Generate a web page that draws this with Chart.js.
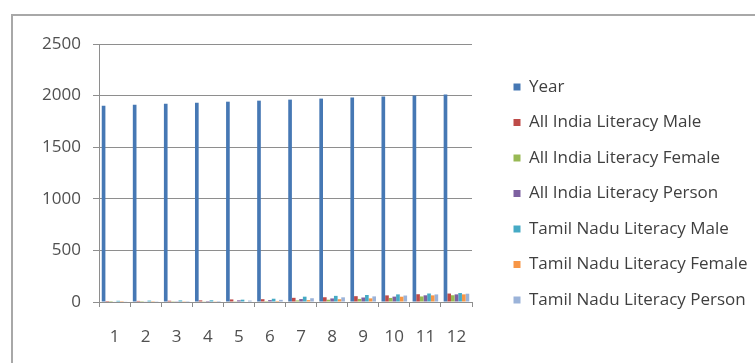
<!DOCTYPE html>
<html>
<head>
<meta charset="utf-8">
<script src="https://cdn.jsdelivr.net/npm/chart.js@4.4.1/dist/chart.umd.min.js"></script>
<style>
  html, body { margin:0; padding:0; background:#fff; overflow:hidden; }
  #frame { position:absolute; left:11px; top:14px; width:800px; height:400px;
    border-top:2px solid #a8a8a8; border-left:2px solid #a8a8a8; }
  #wrap { position:absolute; left:0; top:0; width:755px; height:363px; }
</style>
</head>
<body>
<div id="frame"></div>
<div id="wrap"><canvas id="chart"></canvas></div>
<script>
const categories = ['1','2','3','4','5','6','7','8','9','10','11','12'];
const seriesNames = ['Year','All India Literacy Male','All India Literacy Female','All India Literacy Person',
  'Tamil Nadu Literacy Male','Tamil Nadu Literacy Female','Tamil Nadu Literacy Person'];
const year       = [1901, 1911, 1921, 1931, 1941, 1951, 1961, 1971, 1981, 1991, 2001, 2011];
const indiaMale  = [9.8, 10.6, 12.2, 15.6, 24.9, 27.2, 40.4, 46.0, 56.4, 64.1, 75.3, 82.1];
const indiaFem   = [0.6, 1.1, 1.8, 2.9, 7.3, 8.9, 15.4, 22.0, 29.8, 39.3, 53.7, 65.5];
const indiaPers  = [5.4, 5.9, 7.2, 9.5, 16.1, 18.3, 28.3, 34.5, 43.6, 52.2, 64.8, 74.0];
const tnMale     = [11.7, 13.5, 15.2, 16.5, 22.5, 31.7, 51.6, 59.5, 68.1, 73.8, 82.4, 86.8];
const tnFem      = [0.9, 1.3, 2.0, 2.6, 5.1, 10.0, 18.2, 26.9, 35.0, 51.3, 64.4, 73.9];
const tnPers     = [6.3, 7.4, 8.6, 9.5, 13.8, 20.8, 36.4, 45.4, 54.4, 62.7, 73.5, 80.3];
const yTicks     = [0, 500, 1000, 1500, 2000, 2500];

const colors = ['#4678b4','#be4b48','#98b954','#7d60a0','#46aac5','#f79646','#9bb3d9'];
const values = [year, indiaMale, indiaFem, indiaPers, tnMale, tnFem, tnPers];

const axisGray = '#8e8e8e';
const tickFont = { family:'Open Sans', size:17 };

// keep the plot area narrow and put the legend where the reference has it
const legendSpace = {
  id: 'legendSpace',
  afterInit(chart) {
    const lg = chart.legend;
    const fit = lg.fit;
    lg.fit = function () { fit.call(this); this.width = 755 - 472; };
  },
  afterLayout(chart) {
    const lg = chart.legend;
    lg.left = 495;
    lg.top = 60;
  }
};

new Chart(document.getElementById('chart'), {
  type: 'bar',
  data: {
    labels: categories,
    datasets: seriesNames.map((name, i) => ({
      label: name,
      data: values[i],
      backgroundColor: colors[i],
      borderWidth: 0,
      categoryPercentage: 7 / 8.5,
      barPercentage: 1
    }))
  },
  plugins: [legendSpace],
  options: {
    responsive: true, maintainAspectRatio: false, animation: false,
    layout: { padding: { top: 44, left: 0, right: 0, bottom: 0 } },
    plugins: {
      tooltip: { enabled: false },
      legend: {
        position: 'right', align: 'start',
        labels: { boxWidth: 7, boxHeight: 7, padding: 18.5, color: '#3f3f3f',
          font: { family: 'Open Sans', size: 17 } }
      }
    },
    scales: {
      x: {
        grid: { offset: true, drawOnChartArea: false, drawTicks: true, tickLength: 5, color: axisGray },
        border: { color: axisGray },
        ticks: { color: '#505050', font: tickFont, padding: 20, maxRotation: 0 },
        afterFit: s => { s.height = 363 - 44 - 258; }
      },
      y: {
        min: 0, max: 2500,
        afterBuildTicks: s => { s.ticks = yTicks.map(v => ({ value: v })); },
        grid: { color: axisGray, tickLength: 6 },
        border: { color: axisGray },
        ticks: { color: '#505050', font: tickFont, padding: 12, callback: v => String(v) },
        afterFit: s => { s.width = 99; }
      }
    }
  }
});
</script>
</body>
</html>
